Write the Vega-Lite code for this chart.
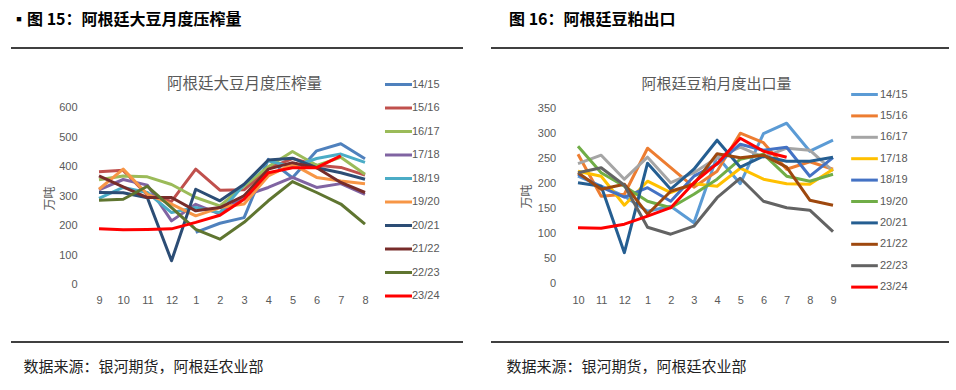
{
  "$schema": "https://vega.github.io/schema/vega-lite/v6.json",
  "padding": {"left": 10, "top": 12, "right": 0, "bottom": 0},
  "spacing": 26,
  "resolve": {"scale": {"color": "independent"}, "legend": {"color": "independent"}},
  "config": {
    "view": {"stroke": null},
    "axis": {"grid": false, "domain": false, "ticks": false, "labelFont": "Liberation Sans", "labelFontSize": 11, "labelColor": "#595959"},
    "legend": {"labelFont": "Liberation Sans", "labelFontSize": 11, "labelColor": "#595959"}
  },
  "hconcat": [
    {
      "width": 452,
      "height": 294,
      "title": {"text": "▪图 15：阿根廷大豆月度压榨量", "anchor": "start", "frame": "group", "font": "Noto Sans CJK SC", "fontSize": 16, "fontWeight": "bold", "color": "#000000", "offset": 19},
      "data": {"values": [
        {"season": "14/15", "month": "1", "value": 178}, {"season": "14/15", "month": "2", "value": 209}, {"season": "14/15", "month": "3", "value": 228}, {"season": "14/15", "month": "4", "value": 425}, {"season": "14/15", "month": "5", "value": 363}, {"season": "14/15", "month": "6", "value": 454}, {"season": "14/15", "month": "7", "value": 478}, {"season": "14/15", "month": "8", "value": 427},
        {"season": "15/16", "month": "9", "value": 383}, {"season": "15/16", "month": "10", "value": 388}, {"season": "15/16", "month": "11", "value": 305}, {"season": "15/16", "month": "12", "value": 283}, {"season": "15/16", "month": "1", "value": 392}, {"season": "15/16", "month": "2", "value": 321}, {"season": "15/16", "month": "3", "value": 322}, {"season": "15/16", "month": "4", "value": 395}, {"season": "15/16", "month": "5", "value": 428}, {"season": "15/16", "month": "6", "value": 405}, {"season": "15/16", "month": "7", "value": 398}, {"season": "15/16", "month": "8", "value": 372},
        {"season": "16/17", "month": "9", "value": 356}, {"season": "16/17", "month": "10", "value": 369}, {"season": "16/17", "month": "11", "value": 366}, {"season": "16/17", "month": "12", "value": 340}, {"season": "16/17", "month": "1", "value": 296}, {"season": "16/17", "month": "2", "value": 268}, {"season": "16/17", "month": "3", "value": 335}, {"season": "16/17", "month": "4", "value": 400}, {"season": "16/17", "month": "5", "value": 452}, {"season": "16/17", "month": "6", "value": 405}, {"season": "16/17", "month": "7", "value": 432}, {"season": "16/17", "month": "8", "value": 375},
        {"season": "17/18", "month": "9", "value": 322}, {"season": "17/18", "month": "10", "value": 357}, {"season": "17/18", "month": "11", "value": 338}, {"season": "17/18", "month": "12", "value": 217}, {"season": "17/18", "month": "1", "value": 273}, {"season": "17/18", "month": "2", "value": 240}, {"season": "17/18", "month": "3", "value": 302}, {"season": "17/18", "month": "4", "value": 330}, {"season": "17/18", "month": "5", "value": 364}, {"season": "17/18", "month": "6", "value": 330}, {"season": "17/18", "month": "7", "value": 343}, {"season": "17/18", "month": "8", "value": 307},
        {"season": "18/19", "month": "9", "value": 293}, {"season": "18/19", "month": "10", "value": 330}, {"season": "18/19", "month": "11", "value": 313}, {"season": "18/19", "month": "12", "value": 245}, {"season": "18/19", "month": "1", "value": 262}, {"season": "18/19", "month": "2", "value": 245}, {"season": "18/19", "month": "3", "value": 340}, {"season": "18/19", "month": "4", "value": 420}, {"season": "18/19", "month": "5", "value": 400}, {"season": "18/19", "month": "6", "value": 428}, {"season": "18/19", "month": "7", "value": 443}, {"season": "18/19", "month": "8", "value": 415},
        {"season": "19/20", "month": "9", "value": 324}, {"season": "19/20", "month": "10", "value": 392}, {"season": "19/20", "month": "11", "value": 307}, {"season": "19/20", "month": "12", "value": 274}, {"season": "19/20", "month": "1", "value": 234}, {"season": "19/20", "month": "2", "value": 262}, {"season": "19/20", "month": "3", "value": 274}, {"season": "19/20", "month": "4", "value": 369}, {"season": "19/20", "month": "5", "value": 409}, {"season": "19/20", "month": "6", "value": 364}, {"season": "19/20", "month": "7", "value": 352}, {"season": "19/20", "month": "8", "value": 343},
        {"season": "20/21", "month": "9", "value": 313}, {"season": "20/21", "month": "10", "value": 312}, {"season": "20/21", "month": "11", "value": 295}, {"season": "20/21", "month": "12", "value": 82}, {"season": "20/21", "month": "1", "value": 324}, {"season": "20/21", "month": "2", "value": 285}, {"season": "20/21", "month": "3", "value": 341}, {"season": "20/21", "month": "4", "value": 423}, {"season": "20/21", "month": "5", "value": 429}, {"season": "20/21", "month": "6", "value": 397}, {"season": "20/21", "month": "7", "value": 380}, {"season": "20/21", "month": "8", "value": 358},
        {"season": "21/22", "month": "9", "value": 369}, {"season": "21/22", "month": "10", "value": 332}, {"season": "21/22", "month": "11", "value": 296}, {"season": "21/22", "month": "12", "value": 296}, {"season": "21/22", "month": "1", "value": 251}, {"season": "21/22", "month": "2", "value": 262}, {"season": "21/22", "month": "3", "value": 302}, {"season": "21/22", "month": "4", "value": 392}, {"season": "21/22", "month": "5", "value": 414}, {"season": "21/22", "month": "6", "value": 397}, {"season": "21/22", "month": "7", "value": 347}, {"season": "21/22", "month": "8", "value": 313},
        {"season": "22/23", "month": "9", "value": 287}, {"season": "22/23", "month": "10", "value": 290}, {"season": "22/23", "month": "11", "value": 334}, {"season": "22/23", "month": "12", "value": 262}, {"season": "22/23", "month": "1", "value": 188}, {"season": "22/23", "month": "2", "value": 155}, {"season": "22/23", "month": "3", "value": 212}, {"season": "22/23", "month": "4", "value": 285}, {"season": "22/23", "month": "5", "value": 350}, {"season": "22/23", "month": "6", "value": 313}, {"season": "22/23", "month": "7", "value": 274}, {"season": "22/23", "month": "8", "value": 206},
        {"season": "23/24", "month": "9", "value": 190}, {"season": "23/24", "month": "10", "value": 187}, {"season": "23/24", "month": "11", "value": 188}, {"season": "23/24", "month": "12", "value": 190}, {"season": "23/24", "month": "1", "value": 212}, {"season": "23/24", "month": "2", "value": 236}, {"season": "23/24", "month": "3", "value": 290}, {"season": "23/24", "month": "4", "value": 380}, {"season": "23/24", "month": "5", "value": 397}, {"season": "23/24", "month": "6", "value": 397}, {"season": "23/24", "month": "7", "value": 437}
      ]},
      "layer": [
        {
          "mark": {"type": "line", "strokeWidth": 3, "strokeJoin": "round"},
          "encoding": {
            "x": {"field": "month", "type": "ordinal", "sort": ["9", "10", "11", "12", "1", "2", "3", "4", "5", "6", "7", "8"],
                  "scale": {"type": "point", "range": [88, 354], "padding": 0},
                  "axis": {"orient": "bottom", "labelAngle": 0, "offset": -50, "labelPadding": 2,
                           "title": "数据来源：银河期货，阿根廷农业部", "titleFont": "Noto Sans CJK SC", "titleFontSize": 15, "titleFontWeight": "normal", "titleColor": "#222222",
                           "titleX": 12, "titleY": 74, "titleAlign": "left", "titleBaseline": "middle", "titleAngle": 0}},
            "y": {"field": "value", "type": "quantitative",
                  "scale": {"domain": [-192.9, 802], "nice": false, "zero": false},
                  "axis": {"orient": "left", "values": [0, 100, 200, 300, 400, 500, 600], "offset": -70, "labelPadding": 4,
                           "title": "万吨", "titleFont": "Noto Sans CJK SC", "titleFontSize": 12, "titleFontWeight": "normal", "titleColor": "#595959",
                           "titleX": -32, "titleY": 150, "titleAlign": "center", "titleBaseline": "middle", "titleAngle": 270}},
            "color": {"field": "season", "type": "nominal",
                      "scale": {"domain": ["14/15", "15/16", "16/17", "17/18", "18/19", "19/20", "20/21", "21/22", "22/23", "23/24"],
                                "range": ["#4F81BD", "#C0504D", "#9BBB59", "#8064A2", "#4BACC6", "#F79646", "#2C4D75", "#772C2A", "#5F7530", "#FF0000"]},
                      "legend": {"orient": "none", "legendX": 379, "legendY": 28, "title": null, "symbolType": "M-2,0L2,0", "symbolSize": 182, "symbolStrokeWidth": 3, "rowPadding": 8.5, "labelOffset": 5}},
            "order": {"value": null}
          }
        },
        {
          "data": {"values": [{}]},
          "layer": [
            {"mark": {"type": "rule", "color": "#000000", "strokeWidth": 1.5},
             "encoding": {"y": {"datum": 1, "type": "quantitative", "scale": {"domain": [0, 1], "nice": false, "zero": false},
               "axis": {"orient": "right", "labels": false, "title": "阿根廷大豆月度压榨量", "titleAngle": 0, "titleX": -219, "titleY": 35, "titleAlign": "center", "titleBaseline": "middle", "titleFont": "Noto Sans CJK SC", "titleFontSize": 15.5, "titleFontWeight": "normal", "titleColor": "#595959"}}}},
            {"mark": {"type": "rule", "color": "#000000", "strokeWidth": 1.5},
             "encoding": {"y": {"datum": 0, "type": "quantitative"}}}
          ]
        }
      ],
      "resolve": {"scale": {"y": "independent"}, "axis": {"y": "independent"}}
    },
    {
      "width": 458,
      "height": 294,
      "title": {"text": "图 16：阿根廷豆粕出口", "anchor": "start", "frame": "group", "font": "Noto Sans CJK SC", "fontSize": 16, "fontWeight": "bold", "color": "#000000", "offset": 19, "dx": 18},
      "data": {"values": [
        {"season": "14/15", "month": "10", "value": 215}, {"season": "14/15", "month": "11", "value": 195}, {"season": "14/15", "month": "12", "value": 175}, {"season": "14/15", "month": "1", "value": 145}, {"season": "14/15", "month": "2", "value": 155}, {"season": "14/15", "month": "3", "value": 122}, {"season": "14/15", "month": "4", "value": 255}, {"season": "14/15", "month": "5", "value": 200}, {"season": "14/15", "month": "6", "value": 300}, {"season": "14/15", "month": "7", "value": 321}, {"season": "14/15", "month": "8", "value": 265}, {"season": "14/15", "month": "9", "value": 287},
        {"season": "15/16", "month": "10", "value": 259}, {"season": "15/16", "month": "11", "value": 175}, {"season": "15/16", "month": "12", "value": 179}, {"season": "15/16", "month": "1", "value": 271}, {"season": "15/16", "month": "2", "value": 232}, {"season": "15/16", "month": "3", "value": 193}, {"season": "15/16", "month": "4", "value": 225}, {"season": "15/16", "month": "5", "value": 301}, {"season": "15/16", "month": "6", "value": 282}, {"season": "15/16", "month": "7", "value": 229}, {"season": "15/16", "month": "8", "value": 244}, {"season": "15/16", "month": "9", "value": 229},
        {"season": "16/17", "month": "10", "value": 240}, {"season": "16/17", "month": "11", "value": 257}, {"season": "16/17", "month": "12", "value": 209}, {"season": "16/17", "month": "1", "value": 253}, {"season": "16/17", "month": "2", "value": 202}, {"season": "16/17", "month": "3", "value": 222}, {"season": "16/17", "month": "4", "value": 252}, {"season": "16/17", "month": "5", "value": 273}, {"season": "16/17", "month": "6", "value": 253}, {"season": "16/17", "month": "7", "value": 271}, {"season": "16/17", "month": "8", "value": 267}, {"season": "16/17", "month": "9", "value": 225},
        {"season": "17/18", "month": "10", "value": 225}, {"season": "17/18", "month": "11", "value": 215}, {"season": "17/18", "month": "12", "value": 157}, {"season": "17/18", "month": "1", "value": 205}, {"season": "17/18", "month": "2", "value": 182}, {"season": "17/18", "month": "3", "value": 200}, {"season": "17/18", "month": "4", "value": 195}, {"season": "17/18", "month": "5", "value": 231}, {"season": "17/18", "month": "6", "value": 209}, {"season": "17/18", "month": "7", "value": 200}, {"season": "17/18", "month": "8", "value": 199}, {"season": "17/18", "month": "9", "value": 229},
        {"season": "18/19", "month": "10", "value": 219}, {"season": "18/19", "month": "11", "value": 193}, {"season": "18/19", "month": "12", "value": 173}, {"season": "18/19", "month": "1", "value": 192}, {"season": "18/19", "month": "2", "value": 165}, {"season": "18/19", "month": "3", "value": 215}, {"season": "18/19", "month": "4", "value": 239}, {"season": "18/19", "month": "5", "value": 279}, {"season": "18/19", "month": "6", "value": 267}, {"season": "18/19", "month": "7", "value": 273}, {"season": "18/19", "month": "8", "value": 215}, {"season": "18/19", "month": "9", "value": 252},
        {"season": "19/20", "month": "10", "value": 275}, {"season": "19/20", "month": "11", "value": 222}, {"season": "19/20", "month": "12", "value": 195}, {"season": "19/20", "month": "1", "value": 165}, {"season": "19/20", "month": "2", "value": 152}, {"season": "19/20", "month": "3", "value": 179}, {"season": "19/20", "month": "4", "value": 209}, {"season": "19/20", "month": "5", "value": 249}, {"season": "19/20", "month": "6", "value": 259}, {"season": "19/20", "month": "7", "value": 215}, {"season": "19/20", "month": "8", "value": 205}, {"season": "19/20", "month": "9", "value": 219},
        {"season": "20/21", "month": "10", "value": 202}, {"season": "20/21", "month": "11", "value": 195}, {"season": "20/21", "month": "12", "value": 62}, {"season": "20/21", "month": "1", "value": 241}, {"season": "20/21", "month": "2", "value": 189}, {"season": "20/21", "month": "3", "value": 229}, {"season": "20/21", "month": "4", "value": 287}, {"season": "20/21", "month": "5", "value": 233}, {"season": "20/21", "month": "6", "value": 255}, {"season": "20/21", "month": "7", "value": 245}, {"season": "20/21", "month": "8", "value": 245}, {"season": "20/21", "month": "9", "value": 253},
        {"season": "21/22", "month": "10", "value": 222}, {"season": "21/22", "month": "11", "value": 189}, {"season": "21/22", "month": "12", "value": 199}, {"season": "21/22", "month": "1", "value": 139}, {"season": "21/22", "month": "2", "value": 185}, {"season": "21/22", "month": "3", "value": 199}, {"season": "21/22", "month": "4", "value": 260}, {"season": "21/22", "month": "5", "value": 252}, {"season": "21/22", "month": "6", "value": 257}, {"season": "21/22", "month": "7", "value": 233}, {"season": "21/22", "month": "8", "value": 167}, {"season": "21/22", "month": "9", "value": 157},
        {"season": "22/23", "month": "10", "value": 222}, {"season": "22/23", "month": "11", "value": 232}, {"season": "22/23", "month": "12", "value": 197}, {"season": "22/23", "month": "1", "value": 113}, {"season": "22/23", "month": "2", "value": 99}, {"season": "22/23", "month": "3", "value": 115}, {"season": "22/23", "month": "4", "value": 172}, {"season": "22/23", "month": "5", "value": 211}, {"season": "22/23", "month": "6", "value": 165}, {"season": "22/23", "month": "7", "value": 152}, {"season": "22/23", "month": "8", "value": 147}, {"season": "22/23", "month": "9", "value": 104},
        {"season": "23/24", "month": "10", "value": 112}, {"season": "23/24", "month": "11", "value": 111}, {"season": "23/24", "month": "12", "value": 119}, {"season": "23/24", "month": "1", "value": 135}, {"season": "23/24", "month": "2", "value": 152}, {"season": "23/24", "month": "3", "value": 202}, {"season": "23/24", "month": "4", "value": 240}, {"season": "23/24", "month": "5", "value": 291}, {"season": "23/24", "month": "6", "value": 265}, {"season": "23/24", "month": "7", "value": 253}
      ]},
      "layer": [
        {
          "mark": {"type": "line", "strokeWidth": 3, "strokeJoin": "round"},
          "encoding": {
            "x": {"field": "month", "type": "ordinal", "sort": ["10", "11", "12", "1", "2", "3", "4", "5", "6", "7", "8", "9"],
                  "scale": {"type": "point", "range": [87, 342], "padding": 0},
                  "axis": {"orient": "bottom", "labelAngle": 0, "offset": -50, "labelPadding": 2,
                           "title": "数据来源：银河期货，阿根廷农业部", "titleFont": "Noto Sans CJK SC", "titleFontSize": 15, "titleFontWeight": "normal", "titleColor": "#222222",
                           "titleX": 15, "titleY": 74, "titleAlign": "left", "titleBaseline": "middle", "titleAngle": 0}},
            "y": {"field": "value", "type": "quantitative",
                  "scale": {"domain": [-116.6, 471.4], "nice": false, "zero": false},
                  "axis": {"orient": "left", "values": [0, 50, 100, 150, 200, 250, 300, 350], "offset": -68.7, "labelPadding": 4,
                           "title": "万吨", "titleFont": "Noto Sans CJK SC", "titleFontSize": 12, "titleFontWeight": "normal", "titleColor": "#595959",
                           "titleX": -33.7, "titleY": 148, "titleAlign": "center", "titleBaseline": "middle", "titleAngle": 270}},
            "color": {"field": "season", "type": "nominal",
                      "scale": {"domain": ["14/15", "15/16", "16/17", "17/18", "18/19", "19/20", "20/21", "21/22", "22/23", "23/24"],
                                "range": ["#5B9BD5", "#ED7D31", "#A5A5A5", "#FFC000", "#4472C4", "#70AD47", "#255E91", "#9E480E", "#636363", "#FF0000"]},
                      "legend": {"orient": "none", "legendX": 365, "legendY": 38, "title": null, "symbolType": "M-2,0L2,0", "symbolSize": 178, "symbolStrokeWidth": 3, "rowPadding": 6.4, "labelOffset": 7}},
            "order": {"value": null}
          }
        },
        {
          "data": {"values": [{}]},
          "layer": [
            {"mark": {"type": "rule", "color": "#000000", "strokeWidth": 1.5},
             "encoding": {"y": {"datum": 1, "type": "quantitative", "scale": {"domain": [0, 1], "nice": false, "zero": false},
               "axis": {"orient": "right", "labels": false, "title": "阿根廷豆粕月度出口量", "titleAngle": 0, "titleX": -233, "titleY": 35, "titleAlign": "center", "titleBaseline": "middle", "titleFont": "Noto Sans CJK SC", "titleFontSize": 15, "titleFontWeight": "normal", "titleColor": "#595959"}}}},
            {"mark": {"type": "rule", "color": "#000000", "strokeWidth": 1.5},
             "encoding": {"y": {"datum": 0, "type": "quantitative"}}}
          ]
        }
      ],
      "resolve": {"scale": {"y": "independent"}, "axis": {"y": "independent"}}
    }
  ]
}
